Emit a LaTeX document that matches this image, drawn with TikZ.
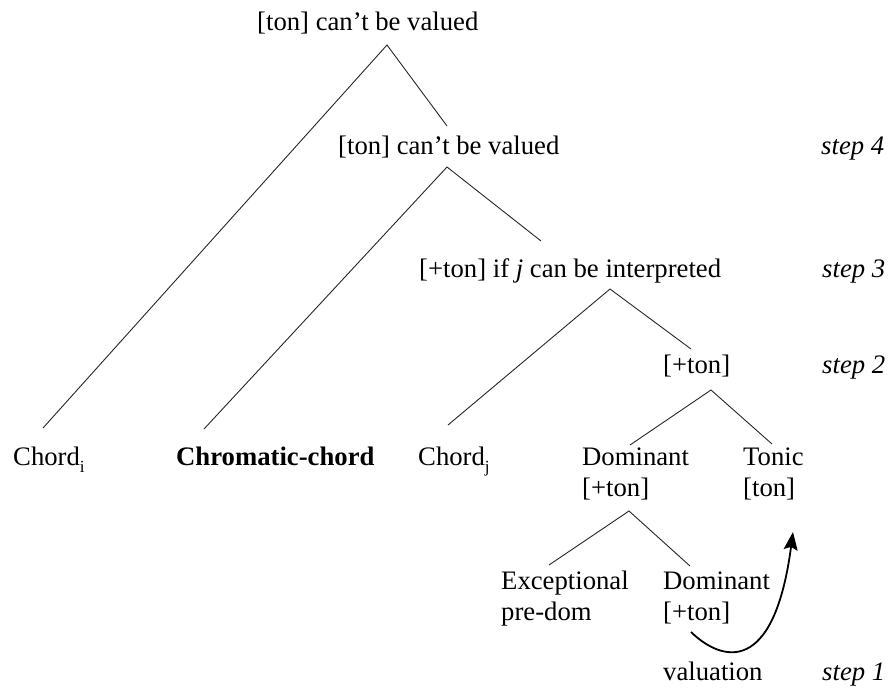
\documentclass[tikz,border=0pt]{standalone}
\usepackage{fontspec}
\setmainfont{Liberation Serif}
\usetikzlibrary{arrows.meta}
\newcommand{\sbs}[1]{\raisebox{-0.28em}{\fontsize{17}{17}\selectfont #1}}
\begin{document}
\begin{tikzpicture}[x=1pt,y=-1pt,
  lbl/.style={anchor=base west,inner sep=0pt,align=left,font=\fontsize{26.7}{31}\selectfont},
  steplbl/.style={lbl,font=\fontsize{26.7}{31}\selectfont\itshape},
  branch/.style={draw=black!85,line width=0.9pt},
  valarrow/.style={draw=black,line width=1.8pt,-{Stealth[length=18pt,width=14pt,inset=3pt]}}]
\useasboundingbox (0,0) rectangle (888,688);
% nodes (base anchor of multi-line nodes = last line)
\node[lbl] (root) at (257,30) {[ton] can’t be valued};
\node[lbl] (n2) at (338,154) {[ton] can’t be valued};
\node[lbl] (n3) at (419,277) {[+ton] if \textit{j} can be interpreted};
\node[lbl] (n4) at (663,373) {[+ton]};
\node[lbl] (chi) at (13,465) {Chord\sbs{i}};
\node[lbl] (chrom) at (176,465) {\textbf{Chromatic-chord}};
\node[lbl] (chj) at (418,465) {Chord\sbs{j}};
\node[lbl] (dom1) at (582,496) {Dominant\\{}[+ton]};
\node[lbl] (ton) at (743,496) {Tonic\\{}[ton]};
\node[lbl] (exc) at (501,620) {Exceptional\\pre-dom};
\node[lbl] (dom2) at (663,620) {Dominant\\{}[+ton]};
\node[lbl] (val) at (663,680) {valuation};
\node[steplbl] (s4) at (821,154) {step 4};
\node[steplbl] (s3) at (822,277) {step 3};
\node[steplbl] (s2) at (822,373) {step 2};
\node[steplbl] (s1) at (822,680) {step 1};
% branch points
\coordinate (rootB) at (387,45);
\coordinate (n2T) at (447,126);
\coordinate (n2B) at (447,167);
\coordinate (n3T) at (541,241);
\coordinate (n3B) at (610,289);
\coordinate (n4T) at (691,349);
\coordinate (n4B) at (711,390);
\coordinate (chiT) at (43,428);
\coordinate (chromT) at (204,429);
\coordinate (chjT) at (448,425);
\coordinate (dom1T) at (630,445);
\coordinate (tonT) at (772,444);
\coordinate (dom1B) at (629,511);
\coordinate (excT) at (549,565);
\coordinate (dom2T) at (690,566);
\coordinate (dom2B) at (691,632);
\coordinate (tonB) at (793,532);
% branches
\draw[branch] (chiT) -- (rootB) -- (n2T);
\draw[branch] (chromT) -- (n2B) -- (n3T);
\draw[branch] (chjT) -- (n3B) -- (n4T);
\draw[branch] (dom1T) -- (n4B) -- (tonT);
\draw[branch] (excT) -- (dom1B) -- (dom2T);
% valuation arrow
\draw[valarrow] (dom2B) .. controls (722,662) and (774,676) .. (tonB);
\end{tikzpicture}
\end{document}
